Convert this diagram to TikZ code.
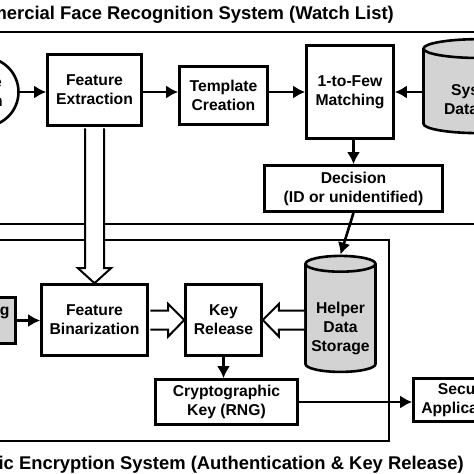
\documentclass[tikz,border=0pt]{standalone}
\usepackage{fontspec}
\setmainfont{Liberation Sans}
\usepackage{tikz}
\usetikzlibrary{calc,positioning,shapes.geometric,arrows.meta}
\definecolor{dbgray}{RGB}{211,211,211}
% text of a storage sits in the body, below the top ellipse
\newcommand{\lowtext}[1]{\raisebox{-10pt}[\height][\depth]{\begin{tabular}{@{}c@{}}#1\end{tabular}}}

\begin{document}
\begin{tikzpicture}[x=1pt,y=-1pt,
    every node/.style={font=\bfseries\fontsize{15.7}{19}\selectfont,align=center,inner sep=0pt},
    block/.style={draw,line width=2.6pt,fill=white,rectangle},
    store/.style={draw,line width=2.6pt,fill=dbgray,cylinder,shape border rotate=90,aspect=0.27},
    frame/.style={draw,line width=2.6pt},
    arr/.style={line width=2.6pt,-{Latex[length=12pt,width=13pt]}},
    hollow/.style={draw,line width=2pt,fill=white,line join=miter},
    title/.style={font=\bfseries\fontsize{18.4}{22}\selectfont,anchor=base east}]

    % Define the visible window
    \clip (0,0) rectangle (474,474);

    % the two system frames
    \draw[frame] (-100,32) rectangle (600,224);
    \draw[frame] (-100,240) rectangle (389,441);

    \node[title] (toptitle) at (394,19.5) {Commercial Face Recognition System (Watch List)};
    \node[title] (bottitle) at (464,469) {Biometric Encryption System (Authentication \& Key Release)};

    % top row
    \node[block,circle,minimum size=69pt] (cap) at (-16,92) {Face\\Scan};
    \node[block,minimum width=94pt,minimum height=71pt] (fe) at (94.5,90) {Feature\\Extraction};
    \node[block,minimum width=88pt,minimum height=58pt] (tc) at (223.5,95.5) {Template\\Creation};
    \node[block,minimum width=87pt,minimum height=93pt] (m) at (350,92) {1-to-Few\\Matching};
    \node[store,minimum width=111pt,minimum height=94pt] (db) at (479,91.5) {\lowtext{System\\Database}};
    \node[block,minimum width=178pt,minimum height=46pt] (d) at (353.5,188.5) {Decision\\(ID or unidentified)};

    % bottom row
    \node[block,fill=dbgray,minimum width=121pt,minimum height=46pt] (pre) at (-45,320.5) {Preprocessing\\Stage};
    \node[block,minimum width=106pt,minimum height=71pt] (fb) at (94.5,320) {Feature\\Binarization};
    \node[block,minimum width=76pt,minimum height=71pt] (kr) at (223.5,320) {Key\\Release};
    \node[store,minimum width=70pt,minimum height=116pt] (hds) at (340.5,318.5) {\lowtext{Helper\\Data\\Storage}};
    \node[block,minimum width=142pt,minimum height=45pt] (ck) at (226.5,402) {Cryptographic\\Key (RNG)};
    \node[block,minimum width=101pt,minimum height=43pt] (sa) at (464,400) {Secure\\Application};

    % hollow arrows
    \draw[hollow] ($(fe.south)+(-9.5,1.5)$) -- ($(fb.north)+(-9.5,-15)$) -- ++(-7,0) -- (fb.north)
        -- ($(fb.north)+(16.5,-15)$) -- ++(-7,0) -- ($(fe.south)+(9.5,1.5)$);
    \draw[hollow] ($(fb.east)+(1.5,-9.5)$) -- ($(kr.west)+(-16,-9.5)$) -- ++(0,-6.5) -- (kr.west)
        -- ($(kr.west)+(-16,16.5)$) -- ++(0,-7) -- ($(fb.east)+(1.5,9.5)$);
    \draw[hollow] ($(hds.west |- kr.east)+(0,-9.5)$) -- ($(kr.east)+(16,-9.5)$) -- ++(0,-6.5) -- (kr.east)
        -- ($(kr.east)+(16,16.5)$) -- ++(0,-7) -- ($(hds.west |- kr.east)+(0,9.5)$);

    % arrows
    \draw[arr] (cap.east) -- (fe.west |- cap.east);
    \draw[arr] (fe.east |- m.west) -- (tc.west |- m.west);
    \draw[arr] (tc.east |- m.west) -- (m.west);
    \draw[arr] (db.west |- m.east) -- (m.east);
    \draw[arr] (d.north |- m.south) -- (d.north);
    \draw[arr] (d.south) -- (hds.north);
    \draw[arr] (pre.east) -- (fb.west |- pre.east);
    \draw[arr] (kr.south) -- (kr.south |- ck.north);
    \draw[arr] (ck.east) -- (sa.west |- ck.east);

\end{tikzpicture}
\end{document}
